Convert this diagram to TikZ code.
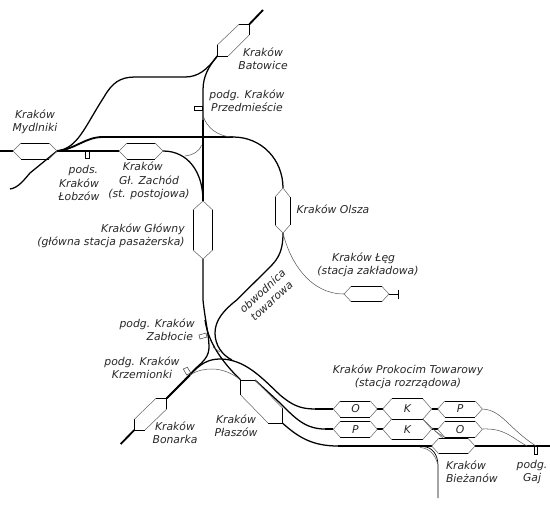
\documentclass[tikz,border=0pt]{standalone}
\usepackage{fontspec}
\setmainfont{DejaVu Sans}
\usetikzlibrary{positioning}

\tikzset{
    track/.style={line width=0.72pt, black},
    mainline/.style={line width=1.05pt, black},
    siding/.style={line width=0.3pt, black!65},
    edgeb/.style={line width=0.42pt, black},
    edgeg/.style={line width=0.3pt, black!60},
    stub/.style={line width=0.4pt, draw=black, fill=white},
    stubg/.style={line width=0.35pt, draw=black!65, fill=white},
    lbl/.style={font=\fontsize{6.15}{7.6}\selectfont\itshape, align=center, inner sep=0pt, text=black!85},
    letter/.style={font=\fontsize{6.15}{7.6}\selectfont\itshape, inner sep=0pt, text=black!85}
}

% horizontal station: left tip, right tip, inner offset, half height, y
\newcommand{\hstation}[5]{
    \draw[edgeb] (#1+#3,#5-#4) -- (#2-#3,#5-#4);
    \draw[edgeb] (#1+#3,#5+#4) -- (#2-#3,#5+#4);
    \draw[edgeg] (#1+#3,#5-#4) -- (#1,#5) -- (#1+#3,#5+#4);
    \draw[edgeg] (#2-#3,#5-#4) -- (#2,#5) -- (#2-#3,#5+#4);
}

\begin{document}
\begin{tikzpicture}[x=0.02cm, y=-0.02cm]
    \useasboundingbox (0,0) rectangle (550,510);

    % Upper lines
    \draw[mainline] (0,151) -- (13,151);
    \draw[mainline] (57,151) -- (119,151);
    \draw[track] (10,189) .. controls (18,188) and (24,180) .. (30,173) -- (57,151);
    \draw[track] (57,151) .. controls (78,148) and (84,128) .. (104,97) .. controls (112,83) and (120,77) .. (135,77) -- (185,77) .. controls (198,77) and (207,70) .. (217.3,56);
    \draw[mainline] (57,151) .. controls (76,149) and (85,137) .. (103,137) -- (233,137);
    \draw[track] (233,137) .. controls (262,137) and (283,160) .. (283,188);
    \draw[track] (163,151) .. controls (188,151) and (203,172) .. (203,201);
    \draw[mainline] (203,201) -- (203,120);
    \draw[track] (203,120) -- (203,90) .. controls (203,76) and (209,66) .. (217.3,56);
    \draw[mainline] (249.3,24.3) -- (263,10);

    % Thin connections
    \draw[siding] (203,115) .. controls (206,128) and (219,137) .. (233,137);
    \draw[siding] (185,156) .. controls (193,155) and (199,152) .. (201.5,145);

    % Olsza and Leg
    \draw[track] (283,233) .. controls (283,250) and (279,258) .. (270,267) -- (236.7,300) .. controls (224,310) and (215,320) .. (215,333) .. controls (215,345) and (222,355) .. (232,360);
    \draw[siding] (283,233) .. controls (290,262) and (310,294) .. (344,294);
    \draw[edgeb] (389,294) -- (398,294);
    \draw[edgeb] (398,289.5) -- (398,298.5);

    % Lower lines
    \draw[track] (203,259) -- (203,300) .. controls (205,320) and (209,335) .. (209,347) .. controls (209,356) and (204,361) .. (196,368) -- (166.7,398.3);
    \draw[mainline] (166.7,398.3) -- (190,375);
    \draw[mainline] (134.3,430) -- (120.7,444);
    \draw[track] (205,320) .. controls (208,342) and (222,362) .. (240.7,380);
    \draw[track] (190,375) .. controls (200,364) and (208,359) .. (220,359) .. controls (245,359) and (262,378) .. (280,395) .. controls (292,405) and (300,409) .. (315,409);
    \draw[mainline] (315,409) -- (333.3,409);
    \draw[track] (255,380) -- (280,403) .. controls (295,418) and (305,429) .. (325,429);
    \draw[mainline] (325,429) -- (333.3,429);
    \draw[track] (282.7,423.3) .. controls (298,437) and (312,446) .. (338,446);
    \draw[siding] (190,375) .. controls (198,370) and (205,369) .. (212,369) .. controls (222,369) and (232,373) .. (240.7,380);
    \draw[siding] (213,347) -- (220,352);

    % Yard
    \draw[mainline] (338,446) -- (423,446);
    \draw[track] (423,446) -- (431.7,446);
    \draw[mainline] (475,446) -- (550,446);
    \foreach \yy in {409,429} {
        \draw[mainline] (377.3,\yy) -- (382.7,\yy);
        \draw[mainline] (431.7,\yy) -- (437.7,\yy);
    }
    \draw[siding] (482.3,409) .. controls (502,410) and (508,428) .. (536,446);
    \draw[siding] (482.3,429) .. controls (505,428) and (512,438) .. (527,446);
    \draw[siding] (422.7,419) -- (443,438.3);
    \draw[siding] (435,431) -- (446,438.3);
    \draw[edgeb] (423,446.5) .. controls (432,447) and (438,454) .. (438,466) -- (438,498);
    \draw[siding] (420,447.5) .. controls (430,448) and (436,456) .. (437.5,464);

    % Stations
    \hstation{13}{57}{8}{8}{151}
    \hstation{119}{163}{8}{8}{151}
    \hstation{344}{389}{7}{7.5}{294}
    \hstation{333.3}{377.3}{7}{8}{409}
    \hstation{333.3}{377.3}{7}{8}{429.3}
    \hstation{382.7}{431.7}{9}{10.3}{409}
    \hstation{382.7}{431.7}{9}{10.3}{429.3}
    \hstation{437.7}{482.3}{7}{8}{409}
    \hstation{437.7}{482.3}{7}{8}{429.3}
    \hstation{431.7}{475}{7}{7.7}{446}

    % Vertical stations
    \draw[edgeb] (193,210) -- (193,250);
    \draw[edgeb] (212.7,210) -- (212.7,250);
    \draw[edgeg] (193,210) -- (203,201) -- (212.7,210);
    \draw[edgeg] (193,250) -- (203,259) -- (212.7,250);
    \draw[edgeb] (275,197) -- (275,225);
    \draw[edgeb] (290,197) -- (290,225);
    \draw[edgeg] (275,197) -- (283,188) -- (290,197);
    \draw[edgeg] (275,225) -- (283,233) -- (290,225);

    % Slanted stations
    \draw[edgeb] (217.3,45) -- (217.3,56) -- (228.3,56);
    \draw[edgeb] (239,24.3) -- (249.3,24.3) -- (249.3,35);
    \draw[edgeg] (217.3,45) -- (239,24.3);
    \draw[edgeg] (228.3,56) -- (249.3,35);
    \draw[edgeb] (134.3,419.3) -- (134.3,430) -- (145,430);
    \draw[edgeb] (156,398.3) -- (166.7,398.3) -- (166.7,409);
    \draw[edgeg] (134.3,419.3) -- (156,398.3);
    \draw[edgeg] (145,430) -- (166.7,409);
    \draw[edgeb] (255,380) -- (240.7,380) -- (240.7,395);
    \draw[edgeb] (268.3,423.3) -- (282.7,423.3) -- (282.7,408.3);
    \draw[edgeg] (240.7,395) -- (268.3,423.3);
    \draw[edgeg] (255,380) -- (282.7,408.3);

    % Stops
    \draw[stub] (85.5,151.5) rectangle (89.5,158.5);
    \draw[stub] (194.5,106) rectangle (202.5,110.5);
    \draw[stub] (534.3,446.5) rectangle (537.7,454.3);
    \draw[stubg] (199,335) -- (206,333) -- (207,337) -- (200,339) -- cycle;
    \draw[stubg] (183.3,369) -- (187.3,367.3) -- (190.7,372.7) -- (186.7,375) -- cycle;

    % Labels
    \node[lbl] (batowice) at (263,59) {Kraków\\Batowice};
    \node[lbl] (przedmiescie) at (247,101) {podg. Kraków\\Przedmieście};
    \node[lbl] (mydlniki) at (35,122) {Kraków\\Mydlniki};
    \node[lbl] (lobzow) at (79,183) {\hspace*{5pt}pods.\\Kraków\\Łobzów};
    \node[lbl] (zachod) at (149,181) {Kraków\hspace*{7pt}\\Gł. Zachód\hspace*{6pt}\\(st. postojowa)};
    \node[lbl, align=right, anchor=east] (glowny) at (185,236) {Kraków Główny\\(główna stacja pasażerska)};
    \node[lbl] (olsza) at (333,209) {Kraków Olsza};
    \node[lbl] (leg) at (368,265) {Kraków Łęg\hspace*{5pt}\\(stacja zakładowa)};
    \node[lbl, rotate=43] (obwodnica) at (267,296) {obwodnica\\towarowa};
    \node[lbl, align=right, anchor=east] (zablocie) at (195,330) {podg. Kraków\\Zabłocie\hspace*{1pt}};
    \node[lbl] (krzemionki) at (142,368) {podg. Kraków\\Krzemionki};
    \node[lbl] (bonarka) at (175,433) {Kraków\\Bonarka};
    \node[lbl] (plaszow) at (236,426) {Kraków\\Płaszów};
    \node[lbl] (prokocim) at (408,377) {Kraków Prokocim Towarowy\\(stacja rozrządowa)};
    \node[lbl, align=left, anchor=west] (biezanow) at (445.7,472) {Kraków\\Bieżanów};
    \node[lbl] (gaj) at (532,472) {podg.\\Gaj};
    \node[letter] (o1) at (355.5,409) {O};
    \node[letter] (k1) at (407.5,409) {K};
    \node[letter] (p1) at (460,409) {P};
    \node[letter] (p2) at (355.5,429.3) {P};
    \node[letter] (k2) at (407.5,429.3) {K};
    \node[letter] (o2) at (460,429.3) {O};
\end{tikzpicture}
\end{document}
